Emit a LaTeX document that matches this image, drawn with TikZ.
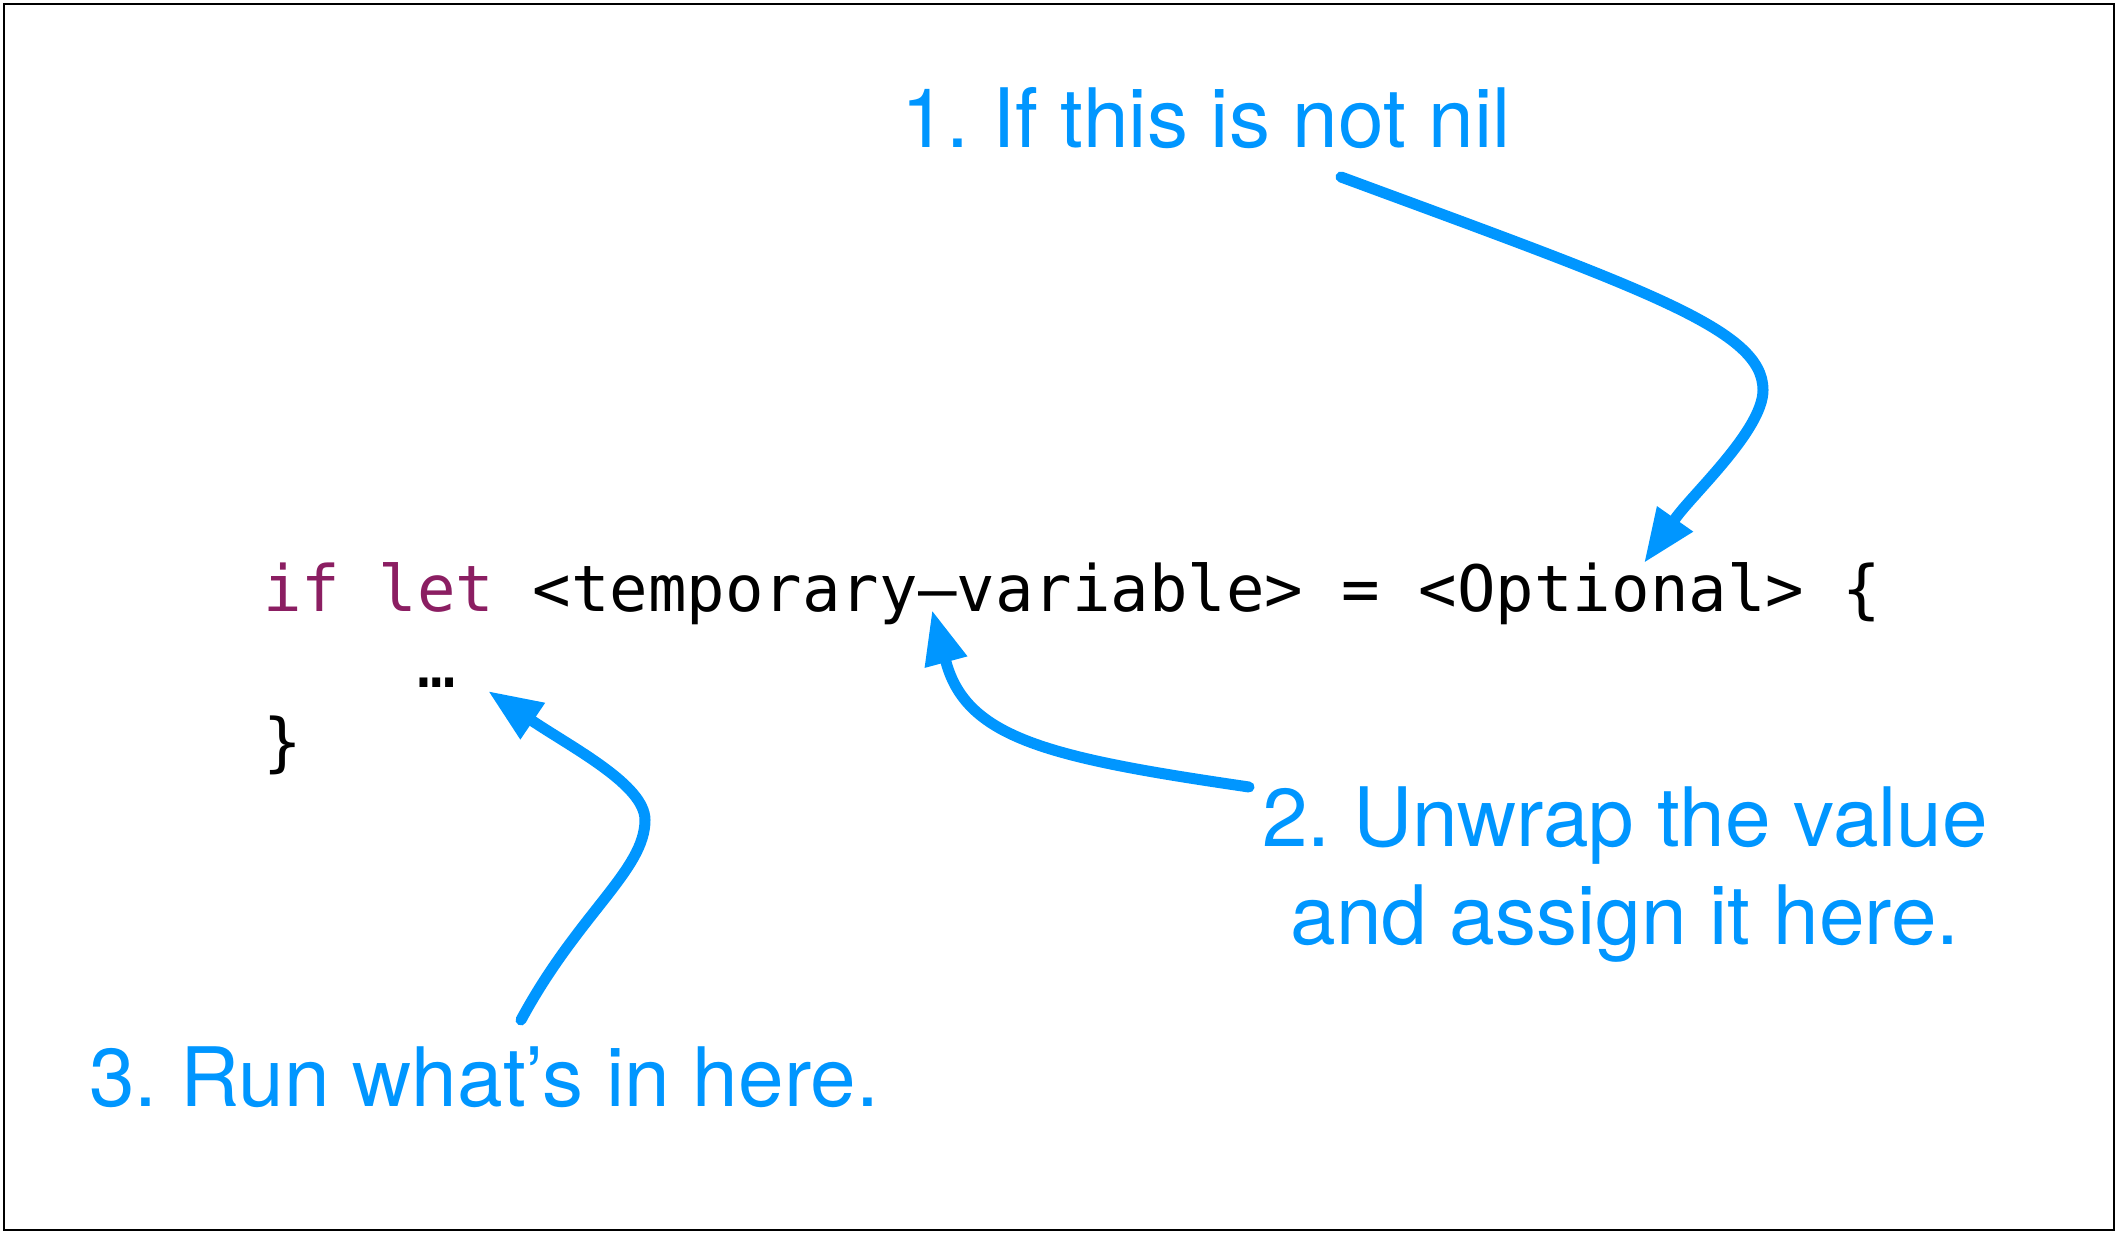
\documentclass[tikz,border=0pt]{standalone}
\usepackage{fontspec}
\newfontfamily\labelfont{TeX Gyre Heros}
\newfontfamily\codefont{DejaVu Sans Mono}
\usetikzlibrary{arrows.meta}
\definecolor{noteblue}{RGB}{0,150,255}
\definecolor{keyword}{RGB}{139,30,98}
\tikzset{
  note/.style={font=\labelfont\fontsize{41pt}{49pt}\selectfont\frenchspacing, text=noteblue, inner sep=0pt, outer sep=0pt, anchor=base},
  codeline/.style={font=\codefont\fontsize{32pt}{38.25pt}\selectfont, text=black, inner sep=0pt, outer sep=0pt, anchor=base west},
  callout/.style={color=noteblue, line width=5.5pt, line cap=round, -{Triangle[length=27pt,width=20.5pt]}}
}
\begin{document}
\begin{tikzpicture}[x=0.5pt,y=-0.5pt]
\useasboundingbox (0,0) rectangle (2118,1234);
\draw[line width=0.75pt] (4,4) rectangle (2114,1230);

% code
\node[codeline] (line1) at (263,611) {\textcolor{keyword}{if let} <temporary–variable> = <Optional> \{};
\node[codeline] (line2) at (263,687.5) {\phantom{0000}…};
\node[codeline] (line3) at (263,764) {\}};

% notes
\node[note] (note1) at (1206,148) {1. If this is not nil};
\node[note, align=center] (note2) at (1625,944) {2. Unwrap the value\\and assign it here.};
\node[note] (note3) at (484,1106) {3. Run what’s in here.};

% connector ends
\coordinate (s1) at (1341,177);
\coordinate (t1) at (1644,563);
\coordinate (s2) at (1249,787);
\coordinate (t2) at (932,610);
\coordinate (s3) at (521,1020);
\coordinate (t3) at (488,691);

\draw[callout] (s1) .. controls (1650,291) and (1763,330) .. (1763,390)
  .. controls (1763,430) and (1692,494.5) .. (1675,519) -- (t1);
\draw[callout] (s2) .. controls (1051,758) and (967,739) .. (946,662) -- (t2);
\draw[callout] (s3) .. controls (578,914) and (645,870) .. (645,820)
  .. controls (645,785) and (572.5,748) .. (531,720) -- (t3);
\end{tikzpicture}
\end{document}
